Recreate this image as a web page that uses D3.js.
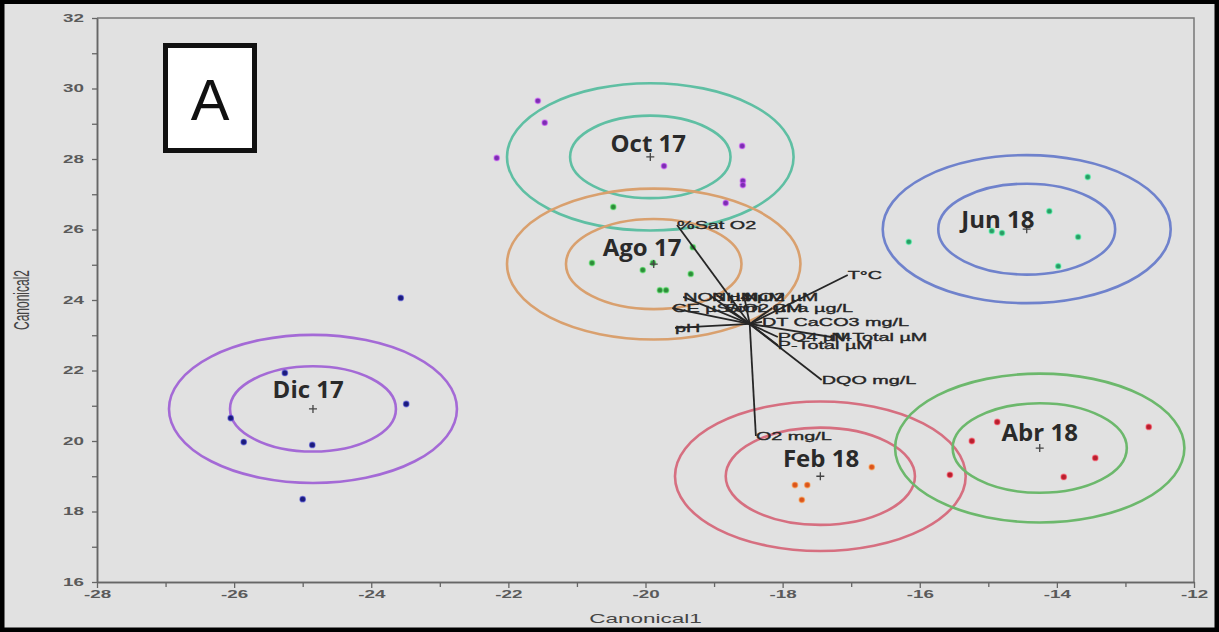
<!DOCTYPE html>
<html>
<head>
<meta charset="utf-8">
<script src="https://cdn.jsdelivr.net/npm/d3@7"></script>
<style>
  body { margin: 0; background: #e3e3e3; }
  svg { display: block; }
</style>
</head>
<body>
<div id="chart"></div>
<script>
// Grupos de muestreo (medias canonicas y radios de los circulos)
const grupos = ["Oct 17", "Ago 17", "Jun 18", "Dic 17", "Feb 18", "Abr 18"];
const centroX = [-19.93, -19.88, -14.44, -24.85, -17.45, -14.25];
const centroY = [28.06, 25.02, 26.01, 20.91, 19.0, 19.8];
const radioInterno = [1.17, 1.28, 1.29, 1.21, 1.38, 1.27];
const radioExterno = [2.09, 2.14, 2.10, 2.10, 2.12, 2.11];
const etiquetaX = [-19.96, -20.05, -14.86, -24.92, -17.44, -14.25];
const etiquetaY = [28.2, 25.25, 26.04, 21.22, 19.26, 20.0];

// Puntos de cada muestreo [Canonical1, Canonical2]
const puntosOct = [[-21.57, 29.65], [-21.47, 29.03], [-22.17, 28.03], [-19.73, 27.8], [-18.59, 28.37], [-18.58, 27.38], [-18.58, 27.26], [-18.83, 26.75]];
const puntosAgo = [[-20.47, 26.64], [-19.31, 25.5], [-20.78, 25.05], [-19.89, 25.05], [-20.04, 24.85], [-19.34, 24.74], [-19.79, 24.28], [-19.70, 24.28]];
const puntosJun = [[-13.55, 27.49], [-14.11, 26.52], [-14.95, 25.96], [-14.80, 25.9], [-13.69, 25.79], [-16.16, 25.65], [-13.98, 24.96]];
const puntosDic = [[-23.57, 24.06], [-25.26, 21.93], [-23.49, 21.05], [-26.05, 20.65], [-25.86, 19.97], [-24.86, 19.89], [-25.0, 18.35]];
const puntosFeb = [[-16.70, 19.26], [-17.82, 18.75], [-17.64, 18.75], [-17.72, 18.33]];
const puntosAbr = [[-15.24, 20.0], [-14.87, 20.54], [-15.56, 19.04], [-13.44, 19.52], [-13.9, 18.98], [-12.66, 20.4]];
const puntos = [puntosOct, puntosAgo, puntosJun, puntosDic, puntosFeb, puntosAbr];

// Vectores de las variables (biplot)
const origen = [-18.48, 23.32];
const variables = ["%Sat O2", "T°C", "DQO mg/L", "O2 mg/L", "pH", "NO3 µM", "NH4 µM", "NO2 µM",
  "CE µS/cm", "SiO2 µM", "Cl-a µg/L", "DT CaCO3 mg/L", "PO4 µM", "N-Total µM", "P-Total µM"];
const vectorX = [-19.54, -17.05, -17.43, -18.39, -19.57, -19.45, -19.03, -18.56,
  -19.61, -18.84, -18.15, -18.30, -18.07, -17.29, -18.07];
const vectorY = [26.13, 24.71, 21.73, 20.14, 23.21, 24.09, 24.09, 24.09,
  23.77, 23.77, 23.77, 23.38, 22.95, 22.95, 22.72];

// Ejes
const ticksMayores = d3.range(16, 33, 2);
const ticksX = d3.range(-28, -11, 2);

const colorCirculo = ["#5fbfa3", "#d9a06e", "#6f82cc", "#a46ad6", "#d66f80", "#6cb86c"];
const colorPunto = ["#7a2fb0", "#2f8a3a", "#2b9a64", "#1c1c78", "#d9541e", "#b5202e"];

const ancho = 1219, alto = 632;
const estirar = 1.88; // el grafico original esta estirado horizontalmente

const x = d3.scaleLinear().domain([-28, -12]).range([97, 1194]);
const y = d3.scaleLinear().domain([16, 32]).range([582, 18]);

const svg = d3.select("#chart").append("svg")
  .attr("width", ancho)
  .attr("height", alto);

// Fondo y marco negro
svg.append("rect")
  .attr("x", 2).attr("y", 1.5)
  .attr("width", ancho - 4).attr("height", alto - 3.5)
  .attr("fill", "#e1e1e1")
  .attr("stroke", "#000")
  .attr("stroke-width", 5);

// Marco del area de grafico
svg.append("path")
  .attr("d", `M${x(-28)},${y(32)}H${x(-12)}V${y(16)}`)
  .attr("fill", "none")
  .attr("stroke", "#777")
  .attr("stroke-width", 1.5);

// Eje x
const ejeX = svg.append("g")
  .attr("transform", `translate(0,${y(16)})`)
  .call(d3.axisBottom(x).tickValues(ticksX).tickSize(6).tickSizeOuter(0).tickFormat(d => String(d)));
svg.append("g")
  .attr("transform", `translate(0,${y(16)})`)
  .call(d3.axisBottom(x).tickValues(d3.range(-27, -12, 2)).tickSize(5).tickSizeOuter(0).tickFormat(""));

// Eje y
const ejeY = svg.append("g")
  .attr("transform", `translate(${x(-28)},0)`)
  .call(d3.axisLeft(y).tickValues(ticksMayores).tickSize(5).tickSizeOuter(0).tickFormat(d => String(d)));
svg.append("g")
  .attr("transform", `translate(${x(-28)},0)`)
  .call(d3.axisLeft(y).tickValues(d3.range(17, 32, 2)).tickSize(5).tickSizeOuter(0).tickFormat(""));

svg.selectAll(".domain").attr("stroke", "#666").attr("stroke-width", 1.5);
svg.selectAll(".tick line").attr("stroke", "#666").attr("stroke-width", 1.3);

ejeX.selectAll("text")
  .attr("y", 9)
  .attr("transform", `scale(${estirar},1)`)
  .attr("x", 0)
  .style("font-family", "Liberation Sans, Arial, sans-serif")
  .style("font-size", "10px")
  .style("font-weight", "bold")
  .attr("fill", "#5a5a5a");

ejeY.selectAll("text")
  .attr("x", -13 / estirar)
  .attr("transform", `scale(${estirar},1)`)
  .style("font-family", "Liberation Sans, Arial, sans-serif")
  .style("font-size", "10px")
  .style("font-weight", "bold")
  .attr("fill", "#5a5a5a");

// Titulos de ejes
svg.append("text")
  .attr("transform", `translate(${(x(-28) + x(-12)) / 2},623) scale(${estirar},1)`)
  .attr("text-anchor", "middle")
  .style("font-family", "Liberation Sans, Arial, sans-serif")
  .style("font-size", "12px")
  .attr("fill", "#444")
  .text("Canonical1");

svg.append("text")
  .attr("transform", `translate(29,${y(24)}) scale(1.8,1) rotate(-90)`)
  .attr("text-anchor", "middle")
  .style("font-family", "Liberation Sans, Arial, sans-serif")
  .style("font-size", "12px")
  .attr("fill", "#444")
  .text("Canonical2");

// Circulos de confianza
const circulos = svg.append("g");
grupos.forEach((g, i) => {
  [radioInterno[i], radioExterno[i]].forEach(r => {
    circulos.append("ellipse")
      .attr("cx", x(centroX[i]))
      .attr("cy", y(centroY[i]))
      .attr("rx", x(centroX[i] + r) - x(centroX[i]))
      .attr("ry", y(centroY[i]) - y(centroY[i] + r))
      .attr("fill", "none")
      .attr("stroke", colorCirculo[i])
      .attr("stroke-width", 2.6);
  });
});

// Puntos
grupos.forEach((g, i) => {
  svg.append("g").selectAll("circle")
    .data(puntos[i])
    .enter().append("circle")
    .attr("cx", d => x(d[0]))
    .attr("cy", d => y(d[1]))
    .attr("r", 2.7)
    .attr("fill", colorPunto[i])
    .attr("stroke", d3.color(colorPunto[i]).brighter(1.5))
    .attr("stroke-opacity", 0.5)
    .attr("stroke-width", 1.4);
});

// Marcas de las medias (+)
svg.append("g").selectAll("path")
  .data(grupos)
  .enter().append("path")
  .attr("d", (d, i) => `M${x(centroX[i]) - 4},${y(centroY[i])}h8M${x(centroX[i])},${y(centroY[i]) - 4}v8`)
  .attr("stroke", "#444")
  .attr("stroke-width", 1.3);

// Vectores del biplot
const biplot = svg.append("g");
biplot.selectAll("line")
  .data(variables)
  .enter().append("line")
  .attr("x1", x(origen[0]))
  .attr("y1", y(origen[1]))
  .attr("x2", (d, i) => x(vectorX[i]))
  .attr("y2", (d, i) => y(vectorY[i]))
  .attr("stroke", "#262626")
  .attr("stroke-width", 1.8);

biplot.selectAll("text")
  .data(variables)
  .enter().append("text")
  .attr("transform", (d, i) => `translate(${x(vectorX[i])},${y(vectorY[i])}) scale(1.8,1)`)
  .attr("dy", "0.35em")
  .style("font-family", "Liberation Sans, Arial, sans-serif")
  .style("font-size", "11px")
  .attr("fill", "#262626")
  .attr("stroke", "#262626")
  .attr("stroke-width", 0.35)
  .text(d => d);

// Etiquetas de los grupos
svg.append("g").selectAll("text")
  .data(grupos)
  .enter().append("text")
  .attr("x", (d, i) => x(etiquetaX[i]))
  .attr("y", (d, i) => y(etiquetaY[i]))
  .attr("text-anchor", "middle")
  .style("font-family", "Open Sans, sans-serif")
  .style("font-size", "24px")
  .style("font-weight", "bold")
  .attr("fill", "#2a2a2a")
  .text(d => d);

// Recuadro "A"
svg.append("rect")
  .attr("x", 165.5).attr("y", 45.5)
  .attr("width", 89).attr("height", 105)
  .attr("fill", "#fff")
  .attr("stroke", "#111")
  .attr("stroke-width", 5);
svg.append("text")
  .attr("x", 210).attr("y", 120)
  .attr("text-anchor", "middle")
  .style("font-family", "Liberation Sans, Arial, sans-serif")
  .style("font-size", "58px")
  .attr("fill", "#111")
  .text("A");
</script>
</body>
</html>
